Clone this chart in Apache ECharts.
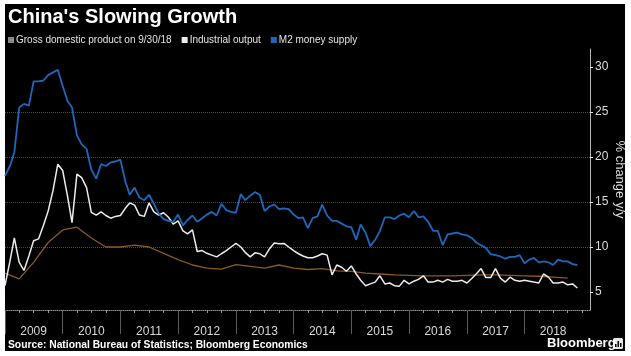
<!DOCTYPE html>
<html><head><meta charset="utf-8">
<script src="https://cdn.jsdelivr.net/npm/echarts@6/dist/echarts.min.js"></script>
<style>
html,body{margin:0;padding:0;background:#fff;}
#wrap{position:relative;width:631px;height:356px;background:#fff;overflow:hidden;}
#bg{position:absolute;left:5px;top:4px;width:620px;height:347px;background:#000;}
#c{position:absolute;left:0;top:0;width:631px;height:356px;}
</style>
</head><body>
<div id="wrap"><div id="bg"></div><div id="c"></div></div>
<script>
// ---- data (monthly values start Dec 2008, quarterly values start Q4 2008) ----
const yearLabels = ['2009','2010','2011','2012','2013','2014','2015','2016','2017','2018'];
const yTickValues = [5, 10, 15, 20, 25, 30];
const seriesNames = ['Gross domestic product on 9/30/18', 'Industrial output', 'M2 money supply'];

const m2Supply = [
  17.9,
  19.0, 20.5, 25.5, 25.9, 25.7, 28.4, 28.4, 28.5, 29.1, 29.4, 29.7, 27.9,
  26.2, 25.5, 22.4, 21.4, 20.9, 18.6, 17.6, 19.2, 19.0, 19.4, 19.5, 19.7,
  17.3, 15.8, 16.6, 15.5, 15.2, 15.8, 14.8, 13.7, 13.1, 12.9, 12.8, 13.6,
  12.4, 13.0, 13.5, 12.8, 13.2, 13.6, 13.9, 13.5, 14.8, 14.1, 13.9, 13.8,
  15.9, 15.2, 15.7, 16.1, 15.8, 14.0, 14.5, 14.7, 14.2, 14.3, 14.2, 13.6,
  13.2, 13.3, 12.1, 13.2, 13.4, 14.7, 13.5, 12.9, 12.9, 12.6, 12.3, 12.2,
  10.8, 12.5, 11.6, 10.1, 10.8, 11.8, 13.3, 13.3, 13.1, 13.5, 13.7, 13.3,
  14.0, 13.3, 13.4, 12.8, 11.8, 11.8, 10.2, 11.4, 11.5, 11.6, 11.4, 11.3,
  11.0, 10.5, 10.2, 9.9, 9.2, 9.1, 8.95, 8.7, 8.9, 8.9, 9.1, 8.2,
  8.6, 8.8, 8.3, 8.4, 8.3, 8.0, 8.6, 8.4, 8.4, 8.1, 8.0
];

const industrialOutput = [
  5.7,
  8.4, 11.0, 8.3, 7.4, 9.0, 10.7, 10.9, 12.4, 14.0, 16.3, 19.2, 18.5,
  15.6, 12.7, 18.1, 17.7, 16.6, 13.85, 13.55, 13.9, 13.5, 13.2, 13.4, 13.5,
  14.3, 14.9, 14.65, 13.55, 13.4, 14.9, 13.9, 13.55, 13.8, 13.3, 12.55, 12.9,
  11.8, 11.45, 11.9, 9.5, 9.6, 9.3, 9.1, 8.9, 9.25, 9.6, 10.0, 10.4,
  10.0, 9.4, 8.9, 9.35, 9.25, 8.9, 9.8, 10.45, 10.35, 10.4, 10.0, 9.6,
  9.25, 9.0, 8.8, 8.8, 9.0, 9.25, 9.1, 6.9, 8.0, 7.75, 7.3, 7.9,
  7.0, 6.3, 5.7, 5.9, 6.1, 6.8, 5.9, 6.0, 5.7, 5.65, 6.3, 5.9,
  6.2, 6.4, 6.8, 6.1, 6.1, 6.3, 6.1, 6.4, 6.2, 6.2, 6.3, 6.0,
  6.5, 7.0, 7.6, 6.6, 6.6, 7.6, 6.55, 6.1, 6.65, 6.3, 6.2, 6.3,
  6.2, 6.1, 6.0, 7.0, 6.65, 6.0, 6.0, 6.1, 5.8, 5.9, 5.45
];

const gdpQuarterly = [
  7.1,
  6.45, 8.3, 10.5, 11.9,
  12.2, 11.0, 10.0, 10.0,
  10.2, 10.0, 9.3, 8.6,
  8.0, 7.65, 7.55, 8.05,
  7.85, 7.65, 8.0, 7.65,
  7.5, 7.6, 7.35, 7.3,
  7.1, 7.0, 6.9, 6.85,
  6.8, 6.8, 6.8, 6.85,
  6.9, 6.9, 6.85, 6.8,
  6.75, 6.65, 6.55
];

// ---- helpers: a monthly value is plotted at the end of its month ----
const monthEnd = i => new Date(2009, i, 1).getTime();        // i = 0 -> Dec 2008
const quarterEnd = j => new Date(2009, 3 * j, 1).getTime();   // j = 0 -> Q4 2008
const xMin = new Date(2009, 0, 1).getTime();
const xMax = new Date(2019, 1, 19).getTime();
const yearStarts = yearLabels.map(y => new Date(+y, 0, 1).getTime());
const midYears = yearLabels.map(y => new Date(+y, 6, 1).getTime());
const quarterStarts = [];
yearLabels.concat(['2019']).forEach(y => [0, 3, 6, 9].forEach(m => {
  const t = new Date(+y, m, 1).getTime();
  if (t >= xMin && t <= xMax) quarterStarts.push(t);
}));

const FONT = '"Liberation Sans", Arial, sans-serif';
const COLORS = { gdp: '#8a5a22', gdpIcon: '#8e887e', ip: '#ececec', m2: '#1d68bb' };

const chart = echarts.init(document.getElementById('c'), null, { renderer: 'canvas' });
chart.setOption({
  backgroundColor: 'transparent',
  animation: false,
  title: [
    { text: "China's Slowing Growth", left: 8, top: 7, padding: 0,
      textStyle: { color: '#fff', fontSize: 20, fontWeight: 'bold', fontFamily: FONT } },
    { text: 'Source: National Bureau of Statistics; Bloomberg Economics', left: 8, top: 340, padding: 0,
      textStyle: { color: '#fff', fontSize: 10.3, fontWeight: 'bold', fontFamily: FONT } },
    { text: 'Bloomberg', left: 547, top: 337, padding: 0,
      textStyle: { color: '#fff', fontSize: 13, fontWeight: 'bold', fontFamily: FONT } }
  ],
  legend: {
    left: 8, top: 35, padding: 0, icon: 'rect', itemWidth: 6, itemHeight: 6, itemGap: 10,
    textStyle: { color: '#e4e4e4', fontSize: 10, fontFamily: FONT, padding: [0, 0, 0, -3] },
    data: [
      { name: seriesNames[0], itemStyle: { color: COLORS.gdpIcon } },
      { name: seriesNames[1], itemStyle: { color: COLORS.ip } },
      { name: seriesNames[2], itemStyle: { color: COLORS.m2 } }
    ]
  },
  grid: { left: 5, right: 41, top: 49, bottom: 46, containLabel: false, outerBoundsMode: 'none' },
  xAxis: [
    {
      type: 'value', min: xMin, max: xMax, position: 'bottom',
      axisLine: { show: true, lineStyle: { color: '#8a8a8a', type: 'dotted', width: 1 } },
      axisTick: { show: true, length: 3, customValues: quarterStarts, lineStyle: { color: '#9a9a9a' } },
      axisLabel: { show: true, customValues: midYears, hideOverlap: false,
        formatter: v => String(new Date(v).getFullYear()),
        color: '#d8d8d8', fontSize: 12, margin: 16, fontFamily: FONT },
      splitLine: { show: false }
    },
    {
      type: 'value', min: xMin, max: xMax, position: 'bottom',
      axisLine: { show: false },
      axisTick: { show: true, length: 24, customValues: yearStarts, lineStyle: { color: '#5a5a5a' } },
      axisLabel: { show: false },
      splitLine: { show: false }
    }
  ],
  yAxis: {
    type: 'value', position: 'right', min: 3, max: 32,
    name: '% change y/y', nameLocation: 'middle', nameRotate: -90, nameGap: 23, nameMoveOverlap: false,
    nameTextStyle: { color: '#dcdcdc', fontSize: 13, fontFamily: FONT },
    axisLine: { show: true, lineStyle: { color: '#b5b5b5', width: 1 } },
    axisTick: { show: true, length: 3, customValues: yTickValues, lineStyle: { color: '#e0e0e0' } },
    axisLabel: { show: true, customValues: yTickValues, color: '#dcdcdc', fontSize: 12, margin: 5, fontFamily: FONT },
    splitLine: { show: true, showMinLine: false, showMaxLine: false,
      lineStyle: { color: '#4a4a4a', type: 'dotted', width: 1 } }
  },
  series: [
    { name: seriesNames[0], type: 'line', xAxisIndex: 0, symbol: 'none', showSymbol: false,
      data: gdpQuarterly.map((v, j) => [quarterEnd(j), v]),
      lineStyle: { color: COLORS.gdp, width: 1.3 }, itemStyle: { color: COLORS.gdp } },
    { name: seriesNames[1], type: 'line', xAxisIndex: 0, symbol: 'none', showSymbol: false,
      data: industrialOutput.map((v, i) => [monthEnd(i), v]),
      lineStyle: { color: COLORS.ip, width: 1.5 }, itemStyle: { color: COLORS.ip } },
    { name: seriesNames[2], type: 'line', xAxisIndex: 0, symbol: 'none', showSymbol: false,
      data: m2Supply.map((v, i) => [monthEnd(i), v]),
      lineStyle: { color: COLORS.m2, width: 1.8 }, itemStyle: { color: COLORS.m2 } }
  ],
  graphic: [
    { type: 'rect', left: 613, top: 338, shape: { width: 10, height: 11, r: 1.5 }, style: { fill: '#e8e8e8' } },
    { type: 'rect', left: 615, top: 344, shape: { width: 1.5, height: 3 }, style: { fill: '#000' } },
    { type: 'rect', left: 617.5, top: 341, shape: { width: 1.5, height: 6 }, style: { fill: '#000' } },
    { type: 'rect', left: 620, top: 343, shape: { width: 1.5, height: 4 }, style: { fill: '#000' } }
  ]
});
</script>
</body></html>
